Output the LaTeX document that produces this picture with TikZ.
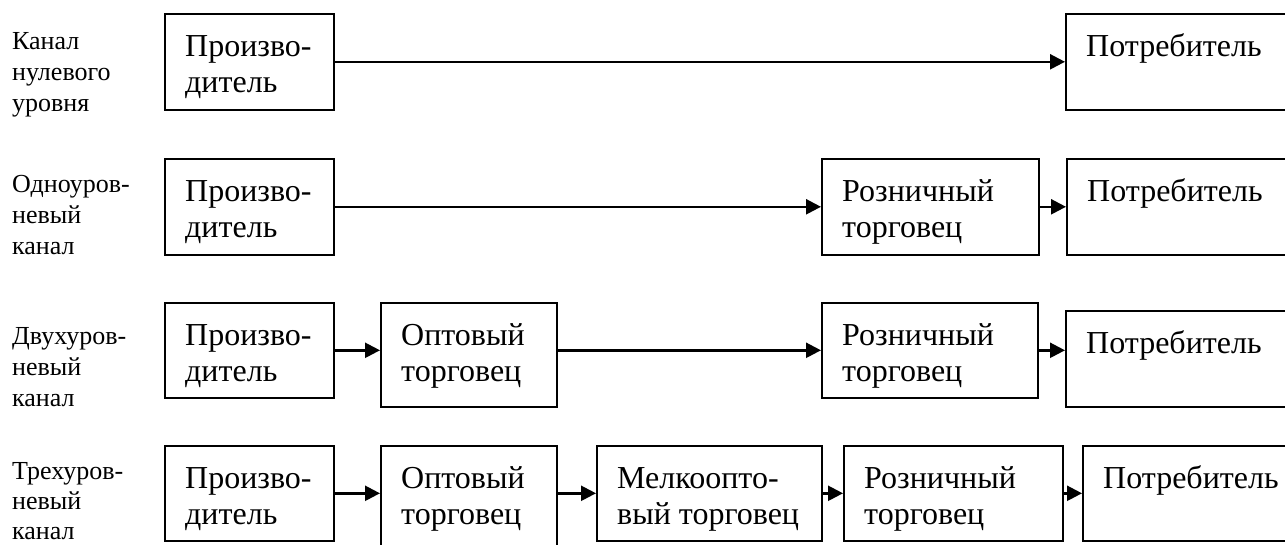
\documentclass[tikz,border=0pt]{standalone}
\usepackage{fontspec}
\setmainfont{Liberation Serif}
\usetikzlibrary{arrows.meta}
\begin{document}
\begin{tikzpicture}[x=1pt,y=-1pt,
  stage/.style={draw, line width=1.6pt, anchor=north west, inner sep=0pt},
  boxtxt/.style={anchor=north west, inner sep=0pt, align=left, font=\fontsize{32}{36}\selectfont},
  rowlbl/.style={anchor=north west, inner sep=0pt, align=left, font=\fontsize{26}{31}\selectfont},
  arr/.style={line width=2.4pt, -{Triangle[length=15pt,width=15pt]}}]
\useasboundingbox (0,0) rectangle (1285,545);
\clip (0,0) rectangle (1285,545);
% row labels
\node[rowlbl] (L1) at (12,27.3) {\strut Канал\\нулевого\\уровня};
\node[rowlbl] (L2) at (12,170.3) {\strut Одноуров-\\невый\\канал};
\node[rowlbl] (L3) at (12,322.3) {\strut Двухуров-\\невый\\канал};
\node[rowlbl, font=\fontsize{26}{30}\selectfont] (L4) at (12,458.3) {\strut Трехуров-\\невый\\канал};
% row 1
\node[stage, minimum width=169pt, minimum height=96pt] (P1) at (164,13) {};
\node[stage, minimum width=240pt, minimum height=96pt] (C1) at (1065,13) {};
\node[boxtxt] (P1t) at (185,30.8) {\strut Произво-\\дитель};
\node[boxtxt] (C1t) at (1086,30.8) {\strut Потребитель};
% row 2
\node[stage, minimum width=169pt, minimum height=96pt] (P2) at (164,158) {};
\node[stage, minimum width=217pt, minimum height=96pt] (R2) at (821,158) {};
\node[stage, minimum width=240pt, minimum height=96pt] (C2) at (1066,158) {};
\node[boxtxt] (P2t) at (185,175.8) {\strut Произво-\\дитель};
\node[boxtxt] (R2t) at (842,175.8) {\strut Розничный\\торговец};
\node[boxtxt] (C2t) at (1087,175.8) {\strut Потребитель};
% row 3
\node[stage, minimum width=169pt, minimum height=95pt] (P3) at (164,302) {};
\node[stage, minimum width=176pt, minimum height=104pt] (O3) at (380,302) {};
\node[stage, minimum width=216pt, minimum height=95pt] (R3) at (821,302) {};
\node[stage, minimum width=240pt, minimum height=96pt] (C3) at (1065,310) {};
\node[boxtxt] (P3t) at (185,319.8) {\strut Произво-\\дитель};
\node[boxtxt] (O3t) at (401,319.8) {\strut Оптовый\\торговец};
\node[boxtxt] (R3t) at (842,319.8) {\strut Розничный\\торговец};
\node[boxtxt] (C3t) at (1086,327.8) {\strut Потребитель};
% row 4
\node[stage, minimum width=169pt, minimum height=95pt] (P4) at (164,445) {};
\node[stage, minimum width=176pt, minimum height=120pt] (O4) at (380,445) {};
\node[stage, minimum width=225pt, minimum height=95pt] (M4) at (596,445) {};
\node[stage, minimum width=219pt, minimum height=95pt] (R4) at (843,445) {};
\node[stage, minimum width=240pt, minimum height=95pt] (C4) at (1082,445) {};
\node[boxtxt] (P4t) at (185,462.8) {\strut Произво-\\дитель};
\node[boxtxt] (O4t) at (401,462.8) {\strut Оптовый\\торговец};
\node[boxtxt] (M4t) at (617,462.8) {\strut Мелкоопто-\\вый торговец};
\node[boxtxt] (R4t) at (864,462.8) {\strut Розничный\\торговец};
\node[boxtxt] (C4t) at (1103,462.8) {\strut Потребитель};
% arrows
\draw[arr] (P1.east) -- (C1.west);
\draw[arr] (P2.east) -- (R2.west);
\draw[arr] (R2.east) -- (C2.west);
\draw[arr] (P3.east) -- (O3.west |- P3.east);
\draw[arr] (O3.east |- P3.east) -- (R3.west);
\draw[arr] (R3.east) -- (C3.west |- R3.east);
\draw[arr] (P4.east) -- (O4.west |- P4.east);
\draw[arr] (O4.east |- P4.east) -- (M4.west);
\draw[arr] (M4.east) -- (R4.west);
\draw[arr] (R4.east) -- (C4.west);
\end{tikzpicture}
\end{document}
